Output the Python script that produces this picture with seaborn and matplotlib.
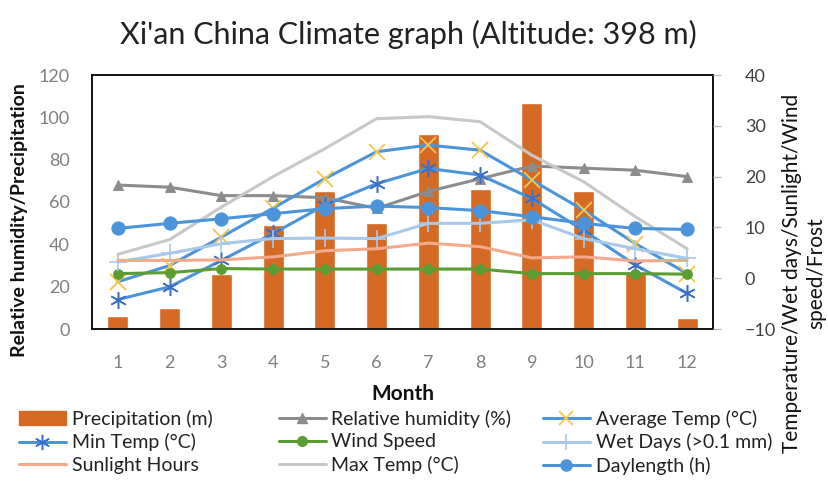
import numpy as np
import pandas as pd
import matplotlib
matplotlib.use("Agg")
import matplotlib.pyplot as plt
import seaborn as sns
from matplotlib.lines import Line2D
from matplotlib.patches import Patch

# Monthly climate data for Xi'an
months = [str(m) for m in range(1, 13)]
precipitation = [6, 10, 26, 49, 65, 50, 92, 66, 107, 65, 27, 5]
humidity = [68, 67, 63, 63, 62, 57, 65, 71, 77, 76, 75, 72]
avg_temp = [-0.7, 2.5, 8.1, 13.8, 19.6, 24.9, 26.2, 25.2, 19.3, 13.4, 6.8, 0.9]
min_temp = [-4.2, -1.7, 3.5, 8.8, 14.4, 18.6, 21.6, 20.3, 15.7, 9.4, 2.6, -3.0]
wind_speed = [0.9, 1.1, 1.9, 1.8, 1.8, 1.8, 1.8, 1.8, 0.9, 0.9, 0.9, 0.8]
wet_days = [3.2, 4.9, 6.8, 7.8, 7.9, 7.8, 10.8, 10.8, 11.5, 7.8, 5.8, 3.9]
sunlight = [3.5, 3.5, 3.6, 4.2, 5.4, 5.8, 6.9, 6.2, 4.0, 4.2, 3.4, 3.5]
max_temp = [4.7, 7.6, 14.0, 20.0, 25.5, 31.4, 31.8, 30.8, 24.2, 19.0, 12.1, 5.8]
daylength = [9.8, 10.8, 11.7, 12.7, 13.7, 14.2, 13.9, 13.3, 12.1, 10.8, 9.8, 9.6]

df = pd.DataFrame({
    "month": months,
    "pos": np.arange(len(months)),
    "precip": precipitation,
    "humidity": humidity,
    "avg": avg_temp,
    "min": min_temp,
    "wind": wind_speed,
    "wet": wet_days,
    "sun": sunlight,
    "max": max_temp,
    "day": daylength,
})

sns.set_theme(style="white")
plt.rcParams["font.family"] = ["Lato", "DejaVu Sans"]

C_PRECIP = "#D46A24"
C_HUM = "#8C8C8C"
C_BLUE = "#4C94DA"
C_XMARK = "#F2C94C"
C_STAR = "#3C6FC8"
C_WIND = "#5A9E33"
C_WET = "#A8C8EC"
C_SUN = "#F4A98A"
C_MAX = "#C8C8C8"

fig = plt.figure(figsize=(8.29, 4.93), dpi=100)
ax = fig.add_axes([92 / 829, 1 - 329 / 493, (713 - 92) / 829, (329 - 75) / 493])

# Precipitation bars and humidity on the left axis
sns.barplot(data=df, x="month", y="precip", color=C_PRECIP, saturation=1,
            width=0.41, ax=ax, zorder=2)
sns.lineplot(data=df, x="pos", y="humidity", ax=ax, color=C_HUM, linewidth=2.2,
             marker="^", markersize=7.5, markeredgecolor=C_HUM, zorder=3)

ax.set_ylim(0, 120)
ax.set_xlim(-0.5, 11.5)
ax.set_yticks(np.arange(0, 121, 20))
ax.set_xticks(np.arange(12))
ax.set_xticklabels(months)
ax.tick_params(axis="both", length=0, labelsize=13, colors="#7F7F7F")
ax.tick_params(axis="x", pad=19)
ax.tick_params(axis="y", pad=16)
ax.set_xlabel("Month", fontsize=15, fontweight="bold", color="#111111", labelpad=9)
ax.set_ylabel("")
fig.text(20 / 829, 1 - 220 / 493, "Relative humidity/Precipitation", rotation=90,
         ha="center", va="center", fontsize=14, fontweight="bold", color="#111111")
for s in ax.spines.values():
    s.set_visible(True)
    s.set_color("#111111")
    s.set_linewidth(1.4)

# Right axis series
ax2 = ax.twinx()
sns.lineplot(data=df, x="pos", y="avg", ax=ax2, color=C_BLUE, linewidth=2.2,
             marker="x", markersize=11, markeredgecolor=C_XMARK, markeredgewidth=1.3)
sns.lineplot(data=df, x="pos", y="min", ax=ax2, color=C_BLUE, linewidth=2.2,
             marker=(6, 2, 0), markersize=12, markeredgecolor=C_STAR, markeredgewidth=1.1)
sns.lineplot(data=df, x="pos", y="wind", ax=ax2, color=C_WIND, linewidth=2.2,
             marker="o", markersize=7, markeredgecolor=C_WIND)
sns.lineplot(data=df, x="pos", y="wet", ax=ax2, color=C_WET, linewidth=2.2,
             marker="+", markersize=13, markeredgecolor=C_WET, markeredgewidth=1.2)
sns.lineplot(data=df, x="pos", y="sun", ax=ax2, color=C_SUN, linewidth=2.2)
sns.lineplot(data=df, x="pos", y="max", ax=ax2, color=C_MAX, linewidth=2.2)
sns.lineplot(data=df, x="pos", y="day", ax=ax2, color=C_BLUE, linewidth=2.2,
             marker="o", markersize=9.5, markeredgecolor=C_BLUE)

ax2.set_ylim(-10, 40)
ax2.set_yticks(np.arange(-10, 41, 10))
ax2.set_ylabel("")
ax2.tick_params(axis="y", length=6, width=1, color="#BFBFBF", labelsize=13,
                labelcolor="#404040", pad=17)
for s in ax2.spines.values():
    s.set_visible(False)
ax.set_xlim(-0.5, 11.5)

fig.text(804 / 829, 1 - 273 / 493, "Temperature/Wet days/Sunlight/Wind\nspeed/Frost",
         rotation=90, ha="center", va="center", multialignment="center",
         fontsize=15, color="#111111", linespacing=1.25)

fig.text(408 / 829, 1 - 34 / 493, "Xi'an China Climate graph (Altitude: 398 m)",
         ha="center", va="center", fontsize=22, color="#222222")

# Legend laid out as three fixed columns
lw = 2.2
h_precip = Patch(facecolor=C_PRECIP, edgecolor=C_PRECIP)
h_hum = Line2D([], [], color=C_HUM, lw=lw, marker="^", markersize=7, markeredgecolor=C_HUM)
h_avg = Line2D([], [], color=C_BLUE, lw=lw, marker="x", markersize=10,
               markeredgecolor=C_XMARK, markeredgewidth=1.3)
h_min = Line2D([], [], color=C_BLUE, lw=lw, marker=(6, 2, 0), markersize=11,
               markeredgecolor=C_STAR, markeredgewidth=1.1)
h_wind = Line2D([], [], color=C_WIND, lw=lw, marker="o", markersize=7, markeredgecolor=C_WIND)
h_wet = Line2D([], [], color=C_WET, lw=lw, marker="+", markersize=12,
               markeredgecolor=C_WET, markeredgewidth=1.2)
h_sun = Line2D([], [], color=C_SUN, lw=lw)
h_max = Line2D([], [], color=C_MAX, lw=lw)
h_day = Line2D([], [], color=C_BLUE, lw=lw, marker="o", markersize=8, markeredgecolor=C_BLUE)

columns = [
    (19, [h_precip, h_min, h_sun], ["Precipitation (m)", "Min Temp (°C)", "Sunlight Hours"]),
    (279, [h_hum, h_wind, h_max], ["Relative humidity (%)", "Wind Speed", "Max Temp (°C)"]),
    (543, [h_avg, h_wet, h_day], ["Average Temp (°C)", "Wet Days (>0.1 mm)", "Daylength (h)"]),
]
for x0, handles, labels in columns:
    leg = fig.legend(handles, labels, loc="upper left",
                     bbox_to_anchor=(x0 / 829, 1 - 410 / 493), frameon=False,
                     fontsize=14, handlelength=2.4, handletextpad=0.3,
                     labelspacing=0.27, borderaxespad=0, borderpad=0,
                     labelcolor="#222222")

fig.savefig("out.png", dpi=100)
